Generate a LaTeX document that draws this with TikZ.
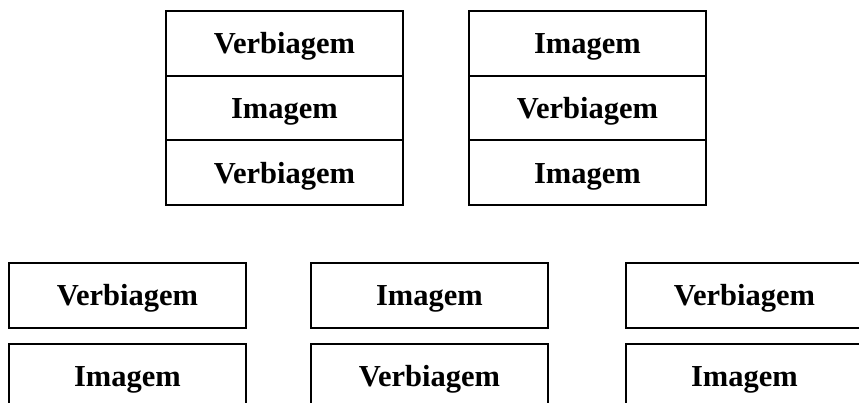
\documentclass[tikz,border=0pt]{standalone}
\usepackage{fontspec}
\setmainfont{Liberation Serif}
\begin{document}
\begin{tikzpicture}[x=1pt,y=-1pt,
  cell/.style={draw=black, line width=1.9pt, minimum width=237pt, minimum height=64.7pt,
    inner sep=0pt, text height=27pt, text depth=6pt,
    font=\fontsize{30.5}{32}\selectfont\bfseries, anchor=north west}]
\useasboundingbox (0,0) rectangle (859,403);
\clip (0,0) rectangle (859,403);
% upper stacks of three cells
\node[cell] (a1) at (165,10) {Verbiagem};
\node[cell] (a2) at (165,74.7) {Imagem};
\node[cell] (a3) at (165,139.4) {Verbiagem};
\node[cell] (b1) at (468,10) {Imagem};
\node[cell] (b2) at (468,74.7) {Verbiagem};
\node[cell] (b3) at (468,139.4) {Imagem};
% lower pairs of separate boxes
\node[cell] (c1) at (8,262) {Verbiagem};
\node[cell] (c2) at (8,343) {Imagem};
\node[cell] (d1) at (310,262) {Imagem};
\node[cell] (d2) at (310,343) {Verbiagem};
\node[cell] (e1) at (625,262) {Verbiagem};
\node[cell] (e2) at (625,343) {Imagem};
\end{tikzpicture}
\end{document}
